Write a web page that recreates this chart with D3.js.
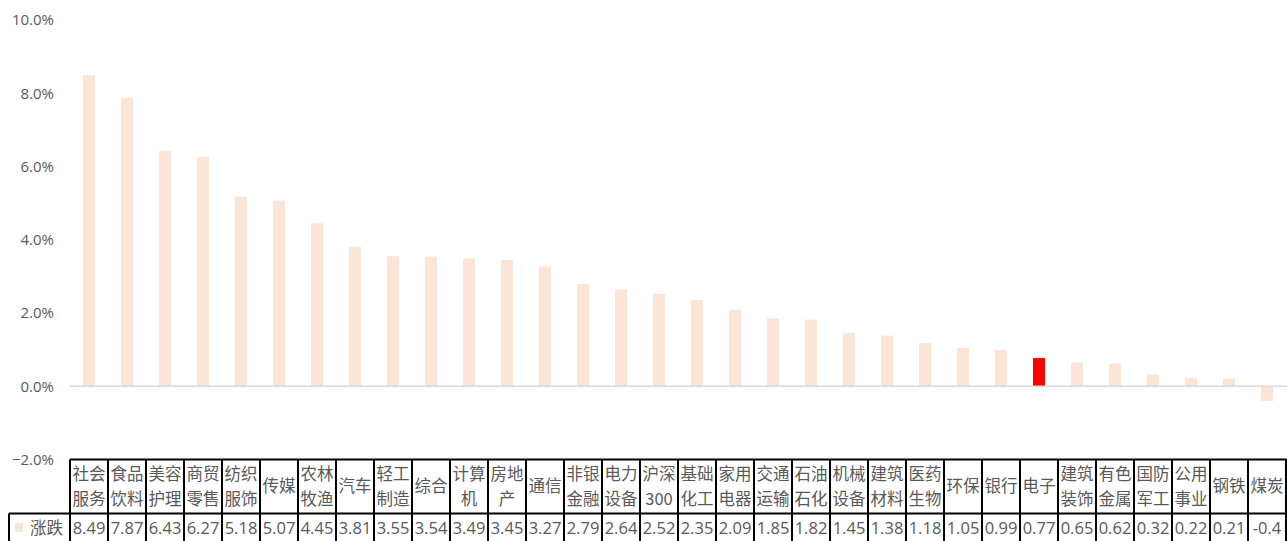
<!DOCTYPE html>
<html>
<head>
<meta charset="utf-8">
<script src="https://cdn.jsdelivr.net/npm/d3@7"></script>
<style>
  html, body { margin: 0; padding: 0; background: #fff; }
  svg { display: block; }
  text { font-family: "Noto Sans CJK SC", "Noto Sans", sans-serif; fill: #595959; }
</style>
</head>
<body>
<svg id="chart" width="1287" height="541"></svg>
<script>
// Industry names (two-line labels split with "\n")
const categories = [
  "社会\n服务", "食品\n饮料", "美容\n护理", "商贸\n零售", "纺织\n服饰", "传媒",
  "农林\n牧渔", "汽车", "轻工\n制造", "综合", "计算\n机", "房地\n产", "通信",
  "非银\n金融", "电力\n设备", "沪深\n300", "基础\n化工", "家用\n电器", "交通\n运输",
  "石油\n石化", "机械\n设备", "建筑\n材料", "医药\n生物", "环保", "银行", "电子",
  "建筑\n装饰", "有色\n金属", "国防\n军工", "公用\n事业", "钢铁", "煤炭"
];
// Weekly change, %
const changes = [
  8.49, 7.87, 6.43, 6.27, 5.18, 5.07, 4.45, 3.81, 3.55, 3.54, 3.49, 3.45, 3.27,
  2.79, 2.64, 2.52, 2.35, 2.09, 1.85, 1.82, 1.45, 1.38, 1.18, 1.05, 0.99, 0.77,
  0.65, 0.62, 0.32, 0.22, 0.21, -0.4
];
const highlighted = ["电子"];
const seriesName = "涨跌";
const yTicks = [-2, 0, 2, 4, 6, 8, 10];

const svg = d3.select("#chart");
const left = 70, right = 1286;
const x = d3.scaleBand().domain(categories).range([left, right]).paddingInner(0).paddingOuter(0);
const y = d3.scaleLinear().domain([-2, 10]).range([459.5, 20]);

const barColor = "#FBE5D6", hiColor = "#FF0000";
const barW = 12;

// y axis labels
const yAxis = d3.axisLeft(y).tickValues(yTicks).tickFormat(d => d3.format(".1f")(d) + "%").tickSize(0).tickPadding(0);
const yg = svg.append("g").attr("transform", "translate(54,0)").call(yAxis);
yg.select(".domain").remove();
yg.selectAll("text").style("font-size", "15px").style("font-family", "'Open Sans', 'Noto Sans', sans-serif").attr("fill", "#595959");

// bars
svg.append("g").selectAll("rect").data(categories).join("rect")
  .attr("x", d => x(d) + x.bandwidth() / 2 - barW / 2)
  .attr("width", barW)
  .attr("y", (d, i) => y(Math.max(0, changes[i])))
  .attr("height", (d, i) => Math.abs(y(changes[i]) - y(0)))
  .attr("fill", d => highlighted.includes(d.replace("\n", "")) ? hiColor : barColor);

// zero line
svg.append("line").attr("x1", left).attr("x2", 1287).attr("y1", y(0)).attr("y2", y(0))
  .attr("stroke", "#D9D9D9").attr("stroke-width", 1.5);

// data table
const tTop = 459.5, tMid = 513.5, tBot = 560;
const tg = svg.append("g");
const lineAttr = sel => sel.attr("stroke", "#000").attr("stroke-width", 2);

// category cells
categories.forEach((c, i) => {
  const cx = x(c) + x.bandwidth() / 2;
  const parts = c.split("\n");
  const midY = (tTop + tMid) / 2;
  parts.forEach((p, k) => {
    const off = parts.length === 1 ? 0 : (k === 0 ? -12.5 : 12.5);
    tg.append("text").attr("x", cx).attr("y", midY + off).attr("dy", "0.36em")
      .attr("text-anchor", "middle").style("font-size", "16.5px").text(p);
  });
  tg.append("text").attr("x", cx).attr("y", (tMid + 541) / 2 + 1).attr("dy", "0.36em")
    .attr("text-anchor", "middle").style("font-size", "16.5px")
    .style("font-family", "'Open Sans', 'Noto Sans', sans-serif")
    .text(String(changes[i]));
});

// legend cell
tg.append("rect").attr("x", 15).attr("y", 523).attr("width", 8).attr("height", 9).attr("fill", barColor);
tg.append("text").attr("x", 30).attr("y", (tMid + 541) / 2 + 1).attr("dy", "0.36em")
  .style("font-size", "16.5px").text(seriesName);

// grid lines
tg.append("line").attr("x1", left).attr("x2", 1287).attr("y1", tTop).attr("y2", tTop).call(lineAttr);
tg.append("line").attr("x1", 9).attr("x2", 1287).attr("y1", tMid).attr("y2", tMid).call(lineAttr);
tg.append("line").attr("x1", 9).attr("x2", 9).attr("y1", tMid).attr("y2", tBot).call(lineAttr);
const edges = categories.map(c => x(c)).concat([right]);
edges.forEach(e => {
  tg.append("line").attr("x1", e).attr("x2", e).attr("y1", tTop).attr("y2", tBot).call(lineAttr);
});
</script>
</body>
</html>
